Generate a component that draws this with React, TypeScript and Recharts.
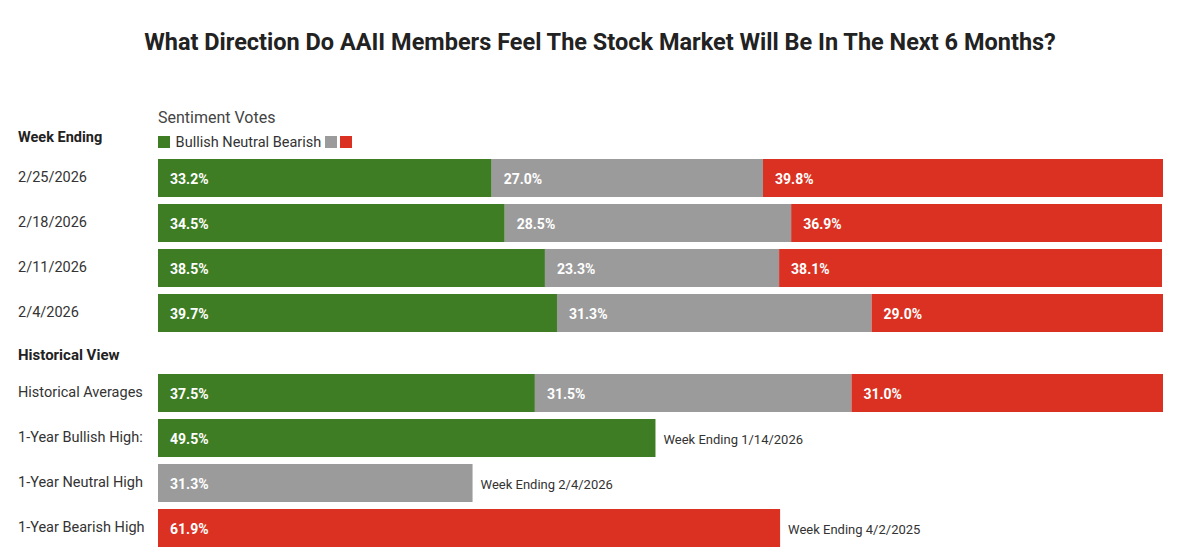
import { BarChart, Bar, XAxis, YAxis, LabelList } from 'recharts';

const TITLE = 'What Direction Do AAII Members Feel The Stock Market Will Be In The Next 6 Months?';

// weekly votes (%)
const weeks = ['2/25/2026', '2/18/2026', '2/11/2026', '2/4/2026'];
const weekBullish = [33.2, 34.5, 38.5, 39.7];
const weekNeutral = [27.0, 28.5, 23.3, 31.3];
const weekBearish = [39.8, 36.9, 38.1, 29.0];

// historical view (%)
const histLabels = ['Historical Averages', '1-Year Bullish High:', '1-Year Neutral High', '1-Year Bearish High'];
const histBullish = [37.5, 49.5, 0, 0];
const histNeutral = [31.5, 0, 31.3, 0];
const histBearish = [31.0, 0, 0, 61.9];
const histNotes = ['', 'Week Ending 1/14/2026', 'Week Ending 2/4/2026', 'Week Ending 4/2/2025'];

const GREEN = '#3e7d23';
const GREY = '#9b9b9b';
const RED = '#db3122';
const FONT = 'Roboto, "Liberation Sans", sans-serif';

type Row = { name: string; Bullish: number; Neutral: number; Bearish: number; note: string };

const weekData: Row[] = weeks.map((w, i) => ({
  name: w,
  Bullish: weekBullish[i],
  Neutral: weekNeutral[i],
  Bearish: weekBearish[i],
  note: '',
}));

const histData: Row[] = histLabels.map((h, i) => ({
  name: h,
  Bullish: histBullish[i],
  Neutral: histNeutral[i],
  Bearish: histBearish[i],
  note: histNotes[i],
}));

function LeftTick(props: any) {
  const { y, payload } = props;
  return (
    <text x={18} y={y} dominantBaseline="central" textAnchor="start"
      fontFamily={FONT} fontSize={14.5} fill="#333">
      {payload.value}
    </text>
  );
}

function ValueLabel(props: any) {
  const { x, y, height, value } = props;
  if (!value) return null;
  return (
    <text x={Number(x) + 12} y={Number(y) + Number(height) / 2 + 1} dominantBaseline="central"
      fontFamily={FONT} fontSize={14} fontWeight={700} fill="#fff">
      {Number(value).toFixed(1)}%
    </text>
  );
}

// note drawn after a bar; only single-bar rows carry one
function NoteLabel(props: any) {
  const { x, y, width, height, value } = props;
  if (!value || !width) return null;
  return (
    <text x={Number(x) + Number(width) + 8} y={Number(y) + Number(height) / 2 + 1} dominantBaseline="central"
      fontFamily={FONT} fontSize={13} fill="#333">
      {value}
    </text>
  );
}

function StackChart({ data, top }: { data: Row[]; top: number }) {
  return (
    <div style={{ position: 'absolute', left: 0, top, width: 1200, height: 180 }}>
      <BarChart width={1200} height={180} data={data} layout="vertical"
        margin={{ top: 0, right: 37, bottom: 0, left: 0 }} barSize={38}>
        <XAxis type="number" domain={[0, 100]} hide />
        <YAxis type="category" dataKey="name" width={158} axisLine={false} tickLine={false}
          tick={<LeftTick />} interval={0} />
        <Bar dataKey="Bullish" stackId="s" fill={GREEN} isAnimationActive={false}>
          <LabelList dataKey="Bullish" content={<ValueLabel />} />
          <LabelList dataKey="note" content={<NoteLabel />} />
        </Bar>
        <Bar dataKey="Neutral" stackId="s" fill={GREY} isAnimationActive={false}>
          <LabelList dataKey="Neutral" content={<ValueLabel />} />
          <LabelList dataKey="note" content={<NoteLabel />} />
        </Bar>
        <Bar dataKey="Bearish" stackId="s" fill={RED} isAnimationActive={false}>
          <LabelList dataKey="Bearish" content={<ValueLabel />} />
          <LabelList dataKey="note" content={<NoteLabel />} />
        </Bar>
      </BarChart>
    </div>
  );
}

export default function App() {
  const sq = (c: string) => (
    <span style={{ display: 'inline-block', width: 12, height: 12, background: c, verticalAlign: -1 }} />
  );
  return (
    <div style={{ position: 'fixed', left: 0, top: 0, width: 1200, height: 554, background: '#fff', fontFamily: FONT, color: '#333' }}>
      <div style={{ position: 'absolute', left: 0, top: 28, width: 1200, textAlign: 'center', fontSize: 23.5, fontWeight: 700, color: '#222' }}>
        {TITLE}
      </div>
      <div style={{ position: 'absolute', left: 158, top: 108, fontSize: 16, color: '#444' }}>Sentiment Votes</div>
      <div style={{ position: 'absolute', left: 18, top: 129, fontSize: 14.5, fontWeight: 700, color: '#222' }}>Week Ending</div>
      <div style={{ position: 'absolute', left: 158, top: 134, fontSize: 14.5, color: '#333', whiteSpace: 'nowrap' }}>
        {sq(GREEN)} <span style={{ marginLeft: 2 }}>Bullish Neutral Bearish</span> {sq(GREY)} {sq(RED)}
      </div>
      <div style={{ position: 'absolute', left: 18, top: 346, fontSize: 15, fontWeight: 700, color: '#222' }}>Historical View</div>
      <StackChart data={weekData} top={154.5} />
      <StackChart data={histData} top={369.5} />
    </div>
  );
}
